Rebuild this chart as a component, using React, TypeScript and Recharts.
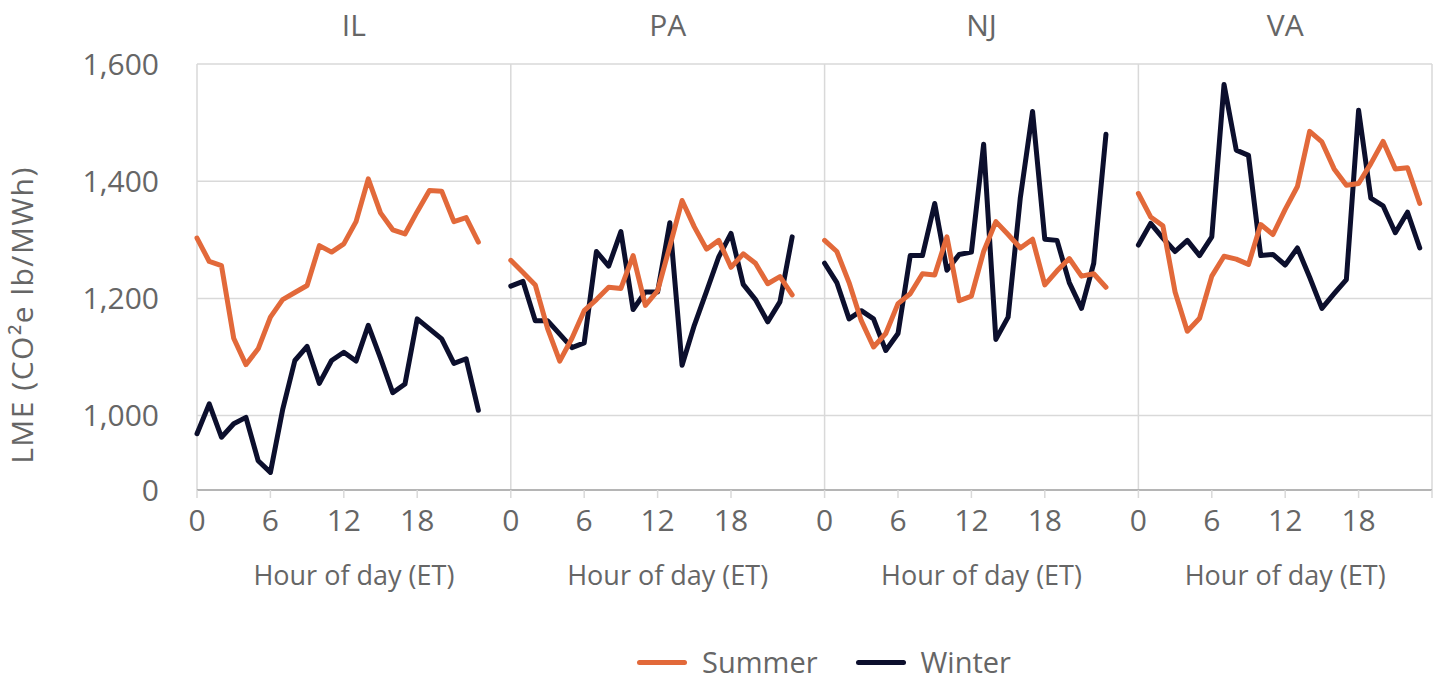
import React from "react";
import {
  LineChart,
  Line,
  XAxis,
  YAxis,
  CartesianGrid,
  ReferenceLine,
  Legend,
} from "recharts";

// chart values
const states = ["IL", "PA", "NJ", "VA"];
const hours = [0, 1, 2, 3, 4, 5, 6, 7, 8, 9, 10, 11, 12, 13, 14, 15, 16, 17, 18, 19, 20, 21, 22, 23];

const ilSummer = [1303, 1263, 1256, 1132, 1087, 1114, 1168, 1198, 1210, 1222, 1290, 1279, 1293, 1331, 1404, 1346, 1317, 1310, 1348, 1384, 1383, 1331, 1338, 1296];
const ilWinter = [969, 1020, 963, 986, 997, 923, 903, 1010, 1094, 1118, 1055, 1094, 1108, 1093, 1154, 1098, 1039, 1054, 1165, 1148, 1131, 1089, 1097, 1009];
const paSummer = [1265, 1244, 1223, 1149, 1093, 1132, 1179, 1198, 1219, 1217, 1273, 1188, 1213, 1289, 1367, 1322, 1284, 1299, 1253, 1276, 1260, 1225, 1237, 1206];
const paWinter = [1221, 1229, 1162, 1162, 1139, 1116, 1124, 1280, 1255, 1314, 1181, 1211, 1211, 1329, 1086, 1154, 1212, 1271, 1311, 1224, 1198, 1160, 1194, 1305];
const njSummer = [1299, 1280, 1227, 1162, 1117, 1140, 1191, 1208, 1242, 1240, 1305, 1196, 1204, 1280, 1331, 1309, 1286, 1301, 1223, 1247, 1268, 1238, 1242, 1219];
const njWinter = [1260, 1227, 1165, 1179, 1165, 1111, 1140, 1273, 1273, 1362, 1248, 1275, 1279, 1463, 1130, 1168, 1372, 1519, 1301, 1299, 1227, 1183, 1260, 1480];
const vaSummer = [1379, 1339, 1324, 1211, 1144, 1166, 1238, 1272, 1267, 1258, 1326, 1309, 1352, 1391, 1485, 1467, 1421, 1393, 1396, 1430, 1468, 1421, 1423, 1362];
const vaWinter = [1291, 1328, 1303, 1280, 1299, 1273, 1305, 1565, 1453, 1444, 1273, 1275, 1257, 1286, 1236, 1183, 1208, 1232, 1521, 1371, 1358, 1312, 1347, 1286];

const summerByState = [ilSummer, paSummer, njSummer, vaSummer];
const winterByState = [ilWinter, paWinter, njWinter, vaWinter];

const hourTickLabels = ["0", "6", "12", "18"];
// bottom tick sits at the axis floor, labelled 0 like the original
const yTicks = [873, 1000, 1200, 1400, 1600];
const yTickLabels = ["0", "1,000", "1,200", "1,400", "1,600"];

const SUMMER = "#E2693A";
const WINTER = "#0C0F2D";
const TEXT = "#666666";
const GRID = "#D9D9D9";
const AXIS = "#A6A6A6";
const FONT = "'Open Sans', sans-serif";

const series = [
  { key: "summer", name: "Summer", color: SUMMER },
  { key: "winter", name: "Winter", color: WINTER },
];

// each facet takes PANEL hours of the shared x axis, the last one stops at 24
const PANEL = 25.65;
const offsets = states.map((_, i) => i * PANEL);
const X_MAX = offsets[offsets.length - 1] + 24;
const panelCenters = offsets.map((o, i) =>
  i < offsets.length - 1 ? o + PANEL / 2 : o + 12
);
const panelEdges = [...offsets, X_MAX];

const rows: { x: number; summer: number | null; winter: number | null }[] = [];
states.forEach((_, i) => {
  hours.forEach((h, j) => {
    rows.push({ x: offsets[i] + h, summer: summerByState[i][j], winter: winterByState[i][j] });
  });
  if (i < states.length - 1) rows.push({ x: offsets[i] + 24.5, summer: null, winter: null });
});

const hourTicks: number[] = [];
const hourTickText: string[] = [];
offsets.forEach((o) => {
  hourTickLabels.forEach((l) => {
    hourTicks.push(o + Number(l));
    hourTickText.push(l);
  });
});
hourTicks.push(X_MAX);
hourTickText.push("");

function findIndex(list: number[], v: number) {
  return list.findIndex((t) => Math.abs(t - v) < 1e-6);
}

function renderLegend() {
  return (
    <div
      style={{
        display: "flex",
        justifyContent: "center",
        alignItems: "center",
        height: 34,
        paddingLeft: 209,
        fontSize: 29,
        lineHeight: "30px",
        color: TEXT,
        fontFamily: FONT,
      }}
    >
      {series.map((s, i) => (
        <div key={s.key} style={{ display: "flex", alignItems: "center", marginLeft: i ? 38 : 0 }}>
          <span
            style={{
              display: "inline-block",
              width: 50,
              height: 5,
              borderRadius: 3,
              background: s.color,
              marginRight: 15,
            }}
          />
          <span>{s.name}</span>
        </div>
      ))}
    </div>
  );
}

export default function App() {
  return (
    <div style={{ position: "absolute", left: 0, top: 0, width: 1439, height: 679, fontFamily: FONT, background: "#fff" }}>
      <LineChart width={1439} height={679} data={rows} margin={{ top: 0, right: 7, bottom: 0, left: 0 }}>
        <CartesianGrid vertical={false} stroke={GRID} strokeWidth={1.5} />
        {panelEdges.map((e) => (
          <ReferenceLine key={e} x={e} stroke={GRID} strokeWidth={1.5} />
        ))}
        <XAxis
          type="number"
          dataKey="x"
          domain={[0, X_MAX]}
          ticks={hourTicks}
          interval={0}
          tickFormatter={(v: number) => hourTickText[findIndex(hourTicks, v)] ?? ""}
          height={50}
          tickSize={8}
          tickMargin={12}
          axisLine={{ stroke: AXIS, strokeWidth: 1.5 }}
          tickLine={{ stroke: GRID, strokeWidth: 1.5 }}
          tick={{ fontSize: 30, fill: TEXT }}
        />
        <XAxis
          xAxisId="title"
          type="number"
          dataKey="x"
          domain={[0, X_MAX]}
          ticks={panelCenters}
          interval={0}
          tickFormatter={() => "Hour of day (ET)"}
          height={105}
          tickSize={0}
          tickMargin={26}
          axisLine={false}
          tickLine={false}
          tick={{ fontSize: 27, fill: TEXT }}
        />
        <XAxis
          xAxisId="top"
          orientation="top"
          type="number"
          dataKey="x"
          domain={[0, X_MAX]}
          ticks={panelCenters}
          interval={0}
          tickFormatter={(v: number) => states[findIndex(panelCenters, v)] ?? ""}
          height={64}
          tickSize={0}
          tickMargin={28}
          axisLine={false}
          tickLine={false}
          tick={{ fontSize: 30, fill: TEXT }}
        />
        <YAxis
          type="number"
          domain={[873, 1600]}
          ticks={yTicks}
          interval={0}
          tickFormatter={(v: number) => yTickLabels[findIndex(yTicks, v)] ?? ""}
          width={197}
          tickSize={0}
          tickMargin={38}
          axisLine={false}
          tickLine={false}
          tick={{ fontSize: 30, fill: TEXT }}
        />
        <Legend verticalAlign="bottom" content={renderLegend} wrapperStyle={{ left: 0, width: 1439 }} />
        {[...series].reverse().map((s) => (
          <Line
            key={s.key}
            type="linear"
            dataKey={s.key}
            name={s.name}
            stroke={s.color}
            strokeWidth={5}
            strokeLinejoin="round"
            strokeLinecap="round"
            dot={false}
            activeDot={false}
            isAnimationActive={false}
          />
        ))}
      </LineChart>
      <div
        style={{
          position: "absolute",
          left: 21,
          top: 315,
          transform: "translate(-50%, -50%) rotate(-90deg)",
          whiteSpace: "nowrap",
          fontSize: 30,
          letterSpacing: 1.5,
          color: TEXT,
        }}
      >
        LME (CO²e lb/MWh)
      </div>
    </div>
  );
}
